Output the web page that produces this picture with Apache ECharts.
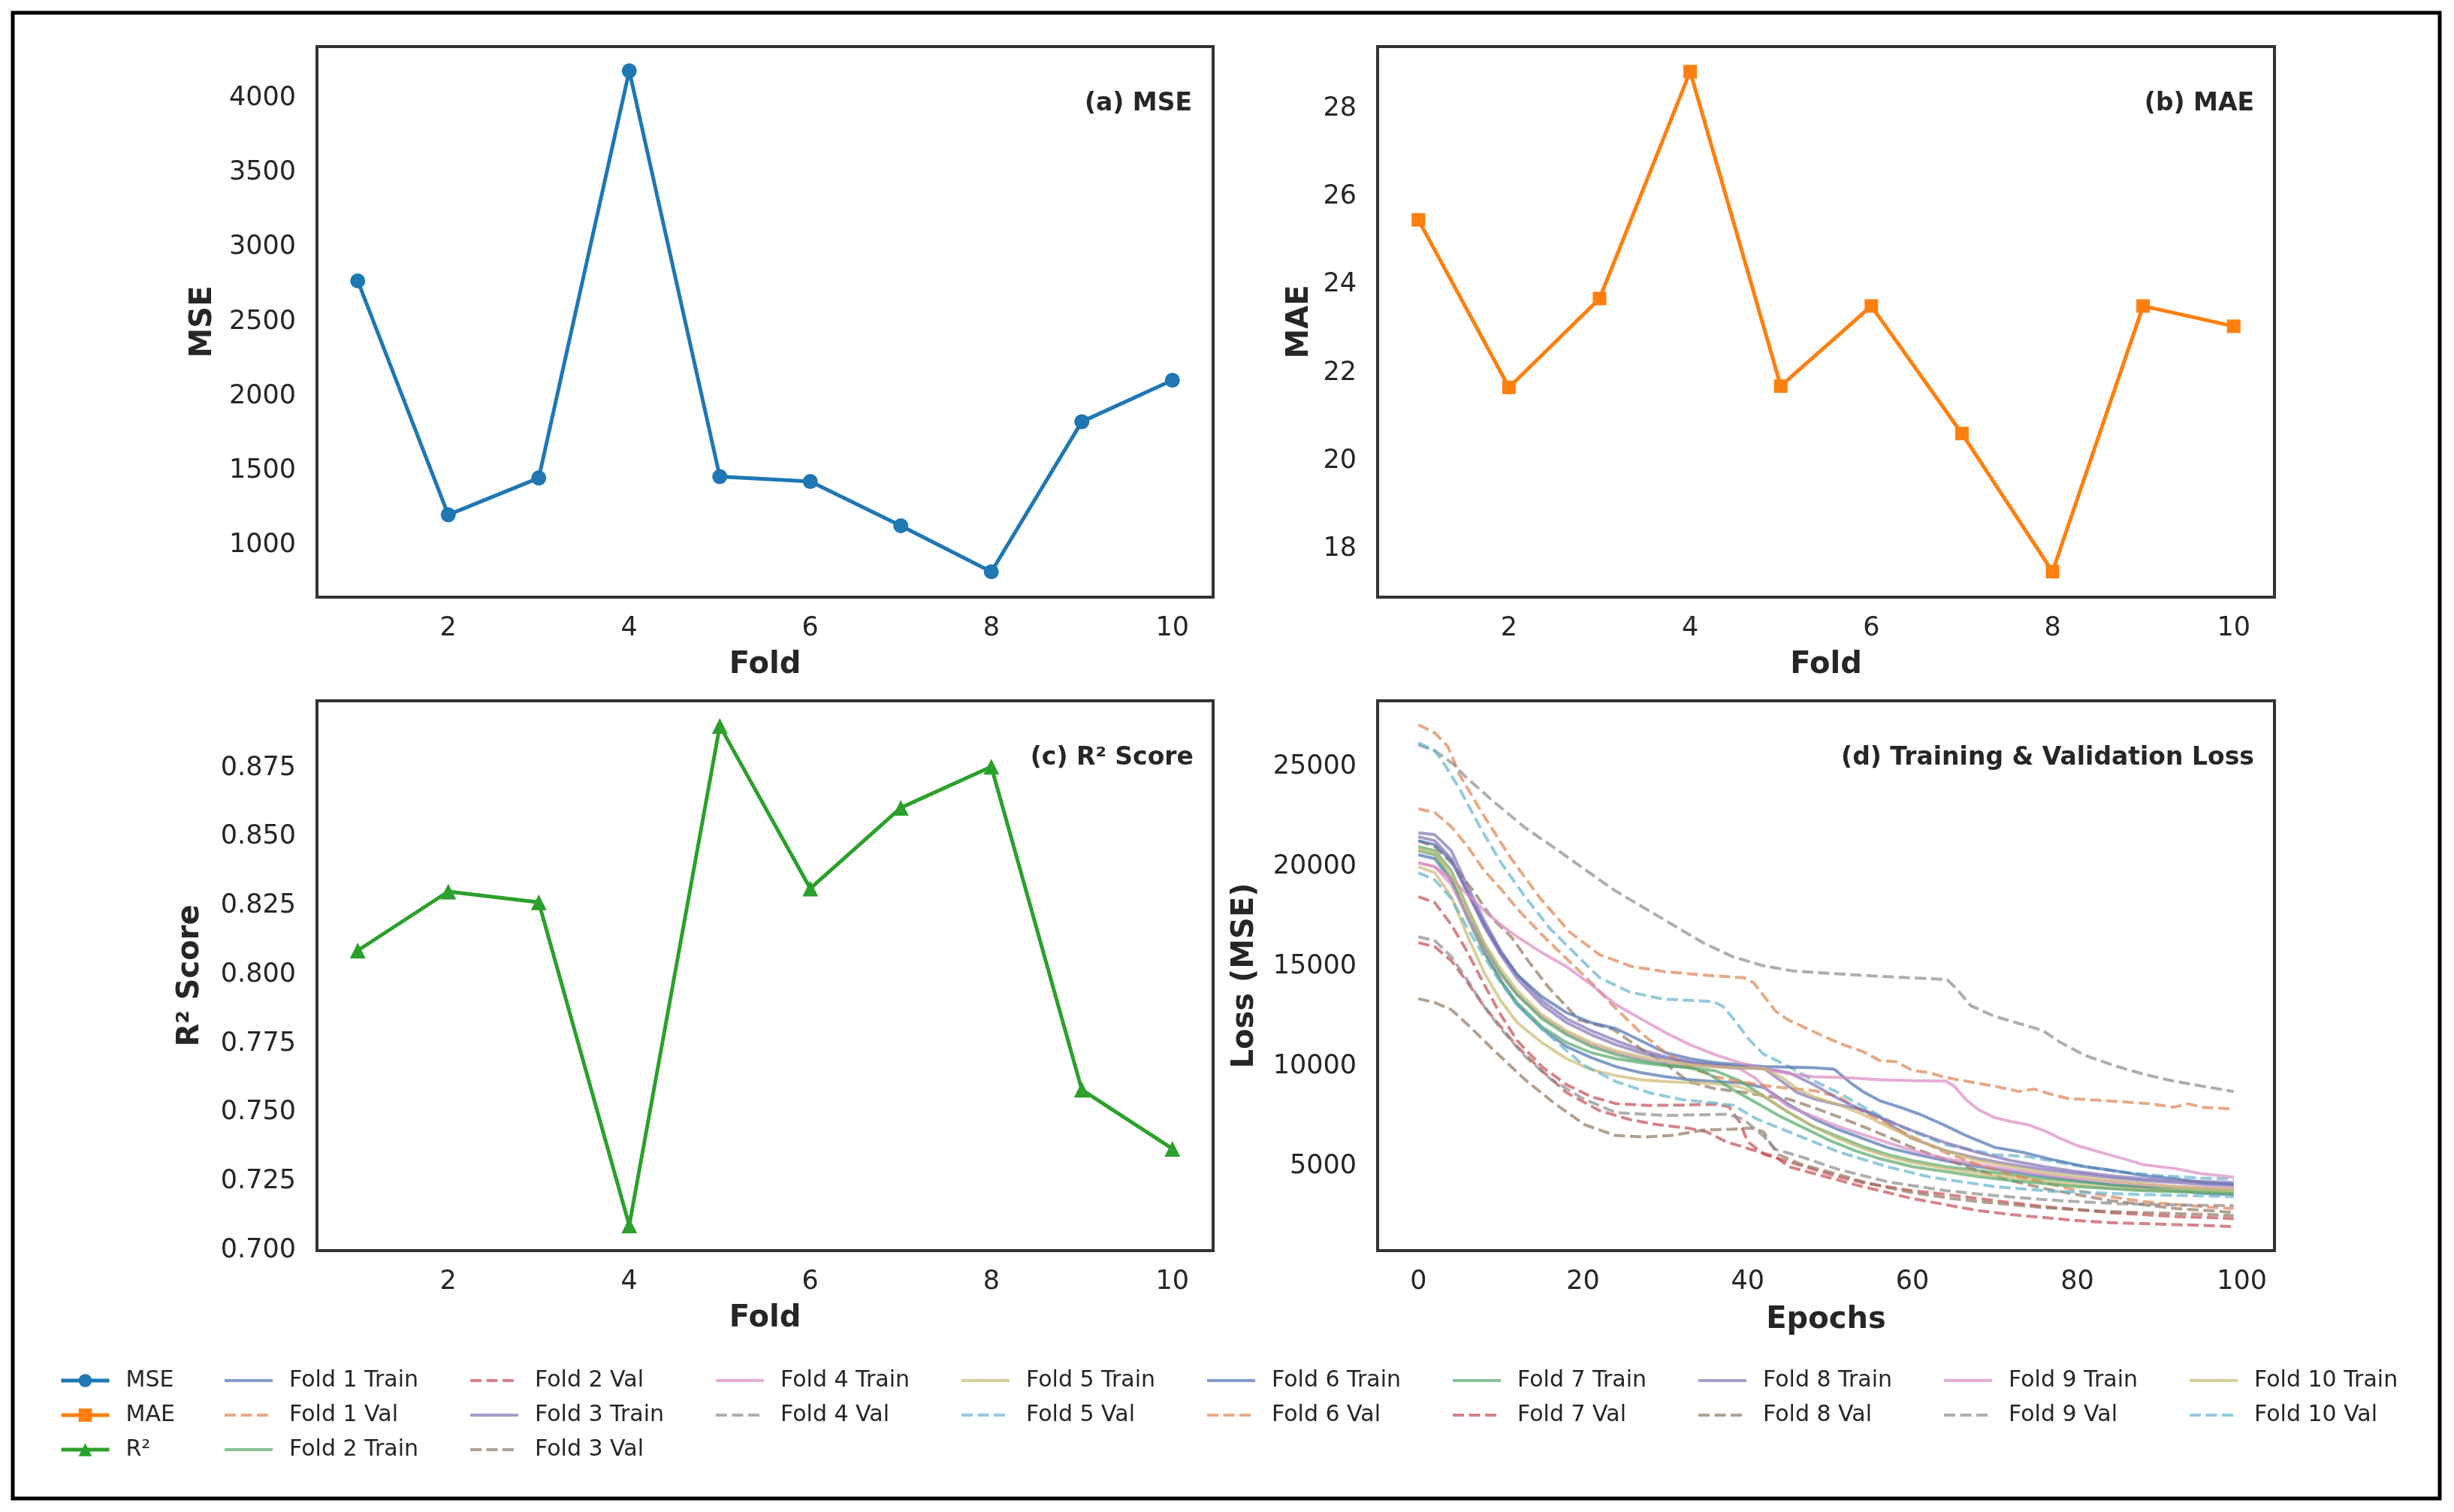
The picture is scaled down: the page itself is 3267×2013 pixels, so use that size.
<!DOCTYPE html>
<html>
<head>
    <meta charset="utf-8">
    <title>Cross-validation metrics</title>
    <script src="https://cdn.jsdelivr.net/npm/echarts@6.0.0/dist/echarts.min.js"></script>
    <style>
        html, body { margin: 0; padding: 0; background: #fff; }
    </style>
</head>
<body>
<div id="main" style="width: 3267px;height:2013px;"></div>
<script type="text/javascript">
    // per-fold metrics
    var folds = [1, 2, 3, 4, 5, 6, 7, 8, 9, 10];
    var mseValues = [2775, 1205, 1452, 4185, 1461, 1428, 1131, 822, 1830, 2108];
    var maeValues = [25.48, 21.67, 23.69, 28.85, 21.70, 23.52, 20.62, 17.48, 23.52, 23.06];
    var r2Values = [0.8088, 0.8302, 0.8263, 0.7091, 0.8903, 0.8313, 0.8606, 0.8755, 0.7583, 0.7369];

    // tick labels
    var foldTicks = [2, 4, 6, 8, 10];
    var mseTicks = [1000, 1500, 2000, 2500, 3000, 3500, 4000];
    var maeTicks = [18, 20, 22, 24, 26, 28];
    var r2Ticks = [0.700, 0.725, 0.750, 0.775, 0.800, 0.825, 0.850, 0.875];
    var epochTicks = [0, 20, 40, 60, 80, 100];
    var lossTicks = [5000, 10000, 15000, 20000, 25000];

    // loss curves, [epoch, loss]
    var fold1Train = [[0,20600],[2,20400],[4,19300],[6,17500],[8,15800],[10,14300],[12,13100],[15,11900],[18,11000],[21,10450],[24,10000],[27,9700],[30,9500],[33,9350],[36,9250],[39,9200],[42,8950],[45,8100],[48,7400],[51,6850],[54,6400],[57,5950],[60,5650],[64,5300],[68,5000],[72,4750],[76,4500],[80,4300],[84,4100],[88,3950],[92,3800],[96,3650],[99,3600]];
    var fold1Val = [[0,27100],[2,26700],[3.6,26000],[5,24600],[7.5,22850],[11,20570],[14.7,18470],[18.4,16720],[22,15600],[26,15000],[30,14750],[35,14570],[39.5,14450],[40.7,14200],[42,13510],[43.4,12760],[45,12320],[48,11750],[51,11190],[54,10750],[56,10310],[58,10250],[60,9810],[62,9700],[64,9460],[66.4,9280],[70,9020],[72.9,8760],[74.7,8880],[77,8600],[79,8400],[82.6,8320],[86,8230],[89,8140],[91.7,7970],[93.5,8140],[95.3,7970],[99,7880]];
    var fold2Train = [[0,20800],[2,20600],[4,19400],[6,17400],[8,15700],[10,14300],[12,13200],[15,12000],[18,11200],[21,10700],[24,10400],[27,10200],[30,10050],[33,9950],[36,9800],[39,9300],[42,8500],[45,7700],[48,7000],[51,6500],[54,6000],[57,5600],[60,5300],[64,5000],[68,4800],[72,4600],[76,4400],[80,4250],[84,4100],[88,4000],[92,3900],[96,3850],[99,3800]];
    var fold2Val = [[0,18500],[2,18200],[4,17100],[6,15700],[8,14100],[10,12600],[12,11300],[15,10000],[18,9100],[21,8500],[24,8150],[28,8060],[32,8080],[36,8120],[37.7,8000],[39,7240],[40,6240],[42,5610],[45,5240],[48,4860],[51,4490],[54,4200],[57,3990],[60,3800],[64,3610],[68,3400],[72,3200],[76,3000],[80,2850],[84,2700],[88,2600],[92,2500],[96,2450],[99,2400]];
    var fold3Train = [[0,21700],[2,21600],[4,20800],[6,19000],[8,17300],[10,15800],[12,14600],[15,13300],[18,12400],[21,11800],[24,11300],[27,10850],[30,10500],[33,10250],[36,10100],[39,10000],[42,9900],[44,9300],[46,8700],[48,8400],[51,8100],[54,7850],[56,7500],[58,6900],[60,6400],[64,5800],[68,5400],[72,5100],[76,4850],[80,4650],[84,4450],[88,4300],[92,4200],[96,4100],[99,4050]];
    var fold3Val = [[0,21300],[2,21000],[4,20200],[6.7,18770],[9,17400],[11.3,16480],[13.5,15200],[15.8,13970],[19.5,12340],[23.6,11880],[27,10900],[29.7,10250],[32.8,9250],[36,8900],[38.9,8750],[42,8550],[45,8370],[48,7950],[51,7490],[54,7000],[57,6490],[60,5950],[64,5360],[68,4800],[72,4300],[76,3900],[80,3600],[84,3300],[88,3100],[92,2900],[96,2800],[99,2700]];
    var fold4Train = [[0,20200],[2,20000],[4,19100],[6,17500],[8,15900],[10,14600],[12,13600],[15,12500],[18,11700],[21,11100],[24,10700],[27,10400],[30,10200],[33,10050],[36,10000],[39,9900],[41,9400],[43,8600],[45,8000],[48,7500],[51,7000],[54,6600],[57,6200],[60,5800],[64,5400],[68,5100],[72,4850],[76,4600],[80,4400],[84,4250],[88,4100],[92,4000],[96,3950],[99,3950]];
    var fold4Val = [[0,26100],[2,25800],[4.3,25120],[5.7,24510],[9.3,23200],[12.9,21970],[16.6,20920],[20.2,19870],[23.8,18820],[27.4,17945],[31,17070],[34.6,16195],[38.2,15495],[41.8,15058],[45.4,14795],[48.3,14708],[55.5,14532],[64.2,14357],[65.3,13916],[67.1,13041],[70,12516],[73.6,12080],[75.8,11816],[78,11204],[80.8,10591],[84.4,10066],[88,9629],[91.7,9279],[95.3,9016],[99,8753]];
    var fold5Train = [[0,20000],[2,19700],[4,18500],[6,16500],[8,14700],[10,13300],[12,12200],[15,11200],[18,10400],[21,9850],[24,9550],[27,9350],[30,9250],[33,9200],[36,9150],[39,9000],[42,8500],[45,7700],[48,7000],[51,6400],[54,5900],[57,5500],[60,5200],[64,4900],[68,4650],[72,4450],[76,4250],[80,4100],[84,3950],[88,3850],[92,3800],[96,3750],[99,3700]];
    var fold5Val = [[0,26200],[2,25800],[3.2,25100],[5,23900],[7.5,21970],[10,20220],[13,18470],[16,16900],[19,15670],[22,14450],[25.6,13740],[29.7,13380],[35.8,13260],[37,13010],[38.3,12380],[40.1,11380],[41.9,10630],[45,10000],[48,9300],[51,8700],[54,8000],[58,7100],[64,6100],[70,5600],[74,5500],[80,5050],[85,4750],[90,4550],[95,4430],[99,4380]];
    var fold6Train = [[0,21300],[2,21100],[4,20300],[6,18700],[8,17100],[10,15700],[12,14600],[15,13500],[18,12700],[21,12200],[24,11900],[27,11300],[30,10700],[33,10400],[36,10200],[39,10100],[42,10000],[45,9980],[48,9950],[50.5,9870],[52.6,9150],[54,8750],[56,8300],[59,7900],[61,7600],[64,7050],[66.4,6570],[70,5960],[73.6,5700],[77,5350],[81,5000],[84,4830],[88,4560],[92,4390],[95,4210],[99,4120]];
    var fold6Val = [[0,22900],[2,22700],[4,22000],[6,21000],[8,19800],[10,18900],[12,17900],[15,16600],[18,15400],[21,14200],[24,12900],[27,11700],[30,10700],[33,9950],[36,9500],[39,9250],[43,9000],[48,8800],[51,8500],[54,7740],[57,7120],[60,6490],[64,5700],[68,5100],[72,4600],[76,4200],[80,3800],[84,3500],[88,3250],[92,3100],[96,2980],[99,2900]];
    var fold7Train = [[0,21000],[2,20800],[4,19800],[6,17900],[8,16100],[10,14700],[12,13600],[15,12400],[18,11600],[21,11000],[24,10600],[27,10300],[30,10100],[33,9950],[35,9700],[38,8900],[41,8200],[44,7500],[47,6900],[50,6300],[53,5800],[56,5400],[60,5000],[64,4750],[68,4500],[72,4300],[76,4150],[80,4000],[84,3900],[88,3800],[92,3750],[96,3700],[99,3650]];
    var fold7Val = [[0,16200],[2,16000],[4,15300],[6,14200],[8,13000],[10,12000],[12,11000],[15,9800],[18,8700],[22,7800],[25.6,7360],[29,7100],[32.8,6920],[35,6740],[37.4,6240],[40.4,5860],[43.4,5490],[45,4990],[49.5,4490],[53,4100],[57,3700],[60,3400],[64,3100],[68,2800],[72,2600],[76,2450],[80,2300],[84,2200],[88,2150],[92,2100],[96,2050],[99,2000]];
    var fold8Train = [[0,21500],[2,21300],[4,20400],[6,18700],[8,17000],[10,15600],[12,14400],[15,13100],[18,12200],[21,11600],[24,11100],[27,10700],[30,10400],[33,10200],[36,10050],[39,9950],[42,9900],[45,9700],[48,9100],[51,8400],[54,7800],[57,7300],[60,6800],[64,6200],[68,5700],[72,5300],[76,5000],[80,4750],[84,4550],[88,4400],[92,4300],[96,4250],[99,4200]];
    var fold8Val = [[0,13400],[2,13200],[4,12850],[6,12100],[9.3,10770],[12.9,9370],[16.6,8140],[20.2,7100],[23.8,6570],[27.4,6480],[31,6570],[34.6,6830],[38,6870],[40.4,6930],[41.9,6740],[42.8,6120],[43.7,5610],[46.5,5110],[51,4610],[54,4240],[57,3950],[60,3700],[64,3450],[68,3250],[72,3100],[76,2950],[80,2850],[84,2750],[88,2700],[92,2650],[96,2600],[99,2550]];
    var fold9Train = [[0,20200],[2,20000],[4,19400],[6,18600],[8,17800],[10,17100],[12,16500],[15,15700],[18,15000],[21,14100],[24,13100],[27,12400],[30,11700],[33,11100],[36,10600],[39,10200],[42,9900],[45,9650],[48,9500],[52,9450],[56,9350],[60,9300],[64,9280],[65,9050],[66.5,8350],[68,7850],[70,7450],[72,7250],[74,7100],[76,6800],[78,6400],[80,6050],[83,5700],[86,5350],[88,5100],[92,4900],[95,4650],[99,4470]];
    var fold9Val = [[0,16500],[2,16300],[4,15500],[6,14300],[8,13000],[10,11900],[13,10500],[16,9400],[20,8400],[24,7700],[30,7560],[37.4,7620],[39.5,7370],[42,6490],[43.4,5860],[46.5,5490],[51,4860],[57,4240],[64,3800],[70,3550],[76,3350],[80,3250],[85,3150],[90,3100],[95,3070],[99,3050]];
    var fold10Train = [[0,20900],[2,20700],[4,19700],[6,17900],[8,16200],[10,14900],[12,13800],[15,12600],[18,11800],[21,11200],[24,10800],[27,10500],[30,10300],[33,10100],[36,10000],[39,9950],[42,9900],[44,9500],[46,8900],[48,8500],[51,8100],[54,7600],[57,7000],[60,6400],[64,5800],[68,5300],[72,5000],[76,4700],[80,4500],[84,4300],[88,4150],[92,4000],[96,3900],[99,3850]];
    var fold10Val = [[0,19700],[2,19340],[4,18400],[6,16900],[8,15500],[10,14200],[12,13100],[15,11900],[18,10800],[20,10100],[24,9250],[28,8700],[32,8350],[36,8180],[38.3,8060],[41,7400],[45,6740],[51,5740],[57,4990],[62,4490],[64,4360],[70,4000],[77,3770],[88,3600],[99,3500]];

    var trainCurves = [fold1Train, fold2Train, fold3Train, fold4Train, fold5Train, fold6Train, fold7Train, fold8Train, fold9Train, fold10Train];
    var valCurves = [fold1Val, fold2Val, fold3Val, fold4Val, fold5Val, fold6Val, fold7Val, fold8Val, fold9Val, fold10Val];

    var FONT = 'DejaVu Sans';
    var INK = '#262626';
    var metricColors = ['#1f77b4', '#ff7f0e', '#2ca02c'];
    var deep = ['#4C72B0', '#DD8452', '#55A868', '#C44E52', '#8172B3', '#937860', '#DA8BC3', '#8C8C8C', '#CCB974', '#64B5CD'];

    function zip(xs, ys) {
        return xs.map(function (x, i) { return [x, ys[i]]; });
    }

    function makeAxis(gridIndex, min, max, ticks, name, gap, fmt, labelMargin) {
        return {
            type: 'value', gridIndex: gridIndex, min: min, max: max,
            name: name, nameLocation: 'middle', nameGap: gap,
            nameTextStyle: {fontFamily: FONT, fontSize: 40, fontWeight: 'bold', color: INK},
            axisLine: {show: false}, axisTick: {show: false}, splitLine: {show: false},
            axisLabel: {
                customValues: ticks, margin: labelMargin,
                fontFamily: FONT, fontSize: 35, color: INK,
                formatter: fmt || function (v) { return String(v); }
            }
        };
    }

    var gridStyle = {show: true, borderColor: '#333', borderWidth: 4, backgroundColor: 'rgba(0,0,0,0)'};
    var grids = [
        Object.assign({left: 422, top: 62, width: 1193, height: 733}, gridStyle),
        Object.assign({left: 1834, top: 62, width: 1194, height: 733}, gridStyle),
        Object.assign({left: 422, top: 933, width: 1193, height: 732}, gridStyle),
        Object.assign({left: 1834, top: 933, width: 1194, height: 732}, gridStyle)
    ];

    var xAxes = [
        makeAxis(0, 0.55, 10.45, foldTicks, 'Fold', 71, null, 24),
        makeAxis(1, 0.55, 10.45, foldTicks, 'Fold', 71, null, 24),
        makeAxis(2, 0.55, 10.45, foldTicks, 'Fold', 71, null, 24),
        makeAxis(3, -4.95, 103.95, epochTicks, 'Epochs', 73, null, 24)
    ];
    var yAxes = [
        makeAxis(0, 652, 4348, mseTicks, 'MSE', 131, null, 28),
        makeAxis(1, 16.9, 29.42, maeTicks, 'MAE', 83, null, 28),
        makeAxis(2, 0.69995, 0.8994, r2Ticks, 'R² Score', 148, function (v) { return v.toFixed(3); }, 28),
        makeAxis(3, 800, 28300, lossTicks, 'Loss (MSE)', 156, null, 28)
    ];

    var series = [
        {name: 'MSE', type: 'line', xAxisIndex: 0, yAxisIndex: 0, data: zip(folds, mseValues),
            symbol: 'circle', symbolSize: 20, lineStyle: {width: 5, color: metricColors[0]}, itemStyle: {color: metricColors[0]}},
        {name: 'MAE', type: 'line', xAxisIndex: 1, yAxisIndex: 1, data: zip(folds, maeValues),
            symbol: 'rect', symbolSize: 18, lineStyle: {width: 5, color: metricColors[1]}, itemStyle: {color: metricColors[1]}},
        {name: 'R²', type: 'line', xAxisIndex: 2, yAxisIndex: 2, data: zip(folds, r2Values),
            symbol: 'triangle', symbolSize: 21, lineStyle: {width: 5, color: metricColors[2]}, itemStyle: {color: metricColors[2]}}
    ];
    for (var i = 0; i < 10; i++) {
        var ct = deep[(2 * i) % 10], cv = deep[(2 * i + 1) % 10];
        series.push({name: 'Fold ' + (i + 1) + ' Train', type: 'line', xAxisIndex: 3, yAxisIndex: 3,
            data: trainCurves[i], symbol: 'none', silent: true,
            lineStyle: {width: 4, color: ct, opacity: 0.7}, itemStyle: {color: ct}});
        series.push({name: 'Fold ' + (i + 1) + ' Val', type: 'line', xAxisIndex: 3, yAxisIndex: 3,
            data: valCurves[i], symbol: 'none', silent: true,
            lineStyle: {width: 4, color: cv, opacity: 0.7, type: [15, 6.5]}, itemStyle: {color: cv}});
    }

    // legend: 10 columns filled top to bottom like matplotlib
    var legendNames = series.map(function (s) { return s.name; });
    var colSizes = [3, 3, 3, 2, 2, 2, 2, 2, 2, 2];
    var colLeft = [74, 292, 619, 946, 1273, 1600, 1927, 2254, 2581, 2908];
    var legends = [];
    var k = 0;
    colSizes.forEach(function (n, c) {
        legends.push({
            left: colLeft[c], top: 1810, orient: 'vertical', itemGap: 0,
            itemWidth: 64, itemHeight: c === 0 ? 22 : 18, selectedMode: false,
            data: legendNames.slice(k, k + n),
            lineStyle: {width: c === 0 ? 5 : 4},
            // loss curves have no markers, so hide the legend symbol there
            itemStyle: c === 0 ? {} : {opacity: 0},
            textStyle: {fontFamily: FONT, fontSize: 30, color: INK, lineHeight: 46, padding: [0, 0, 0, 17]}
        });
        k += n;
    });

    function panelTitle(text, right, top) {
        return {text: text, right: right, top: top, padding: 0,
            textStyle: {fontFamily: FONT, fontSize: 33, fontWeight: 'bold', color: INK, lineHeight: 40}};
    }

    var myChart = echarts.init(document.getElementById('main'));
    var option = {
        animation: false,
        backgroundColor: '#ffffff',
        textStyle: {fontFamily: FONT},
        title: [
            panelTitle('(a) MSE', 1680, 118),
            panelTitle('(b) MAE', 266, 118),
            panelTitle('(c) R² Score', 1678, 989),
            panelTitle('(d) Training & Validation Loss', 266, 989)
        ],
        grid: grids,
        xAxis: xAxes,
        yAxis: yAxes,
        legend: legends,
        series: series,
        graphic: [{
            type: 'rect', silent: true,
            shape: {x: 17, y: 17, width: 3231, height: 1978},
            style: {fill: 'none', stroke: '#000', lineWidth: 5}
        }]
    };
    myChart.setOption(option);
</script>
</body>
</html>
